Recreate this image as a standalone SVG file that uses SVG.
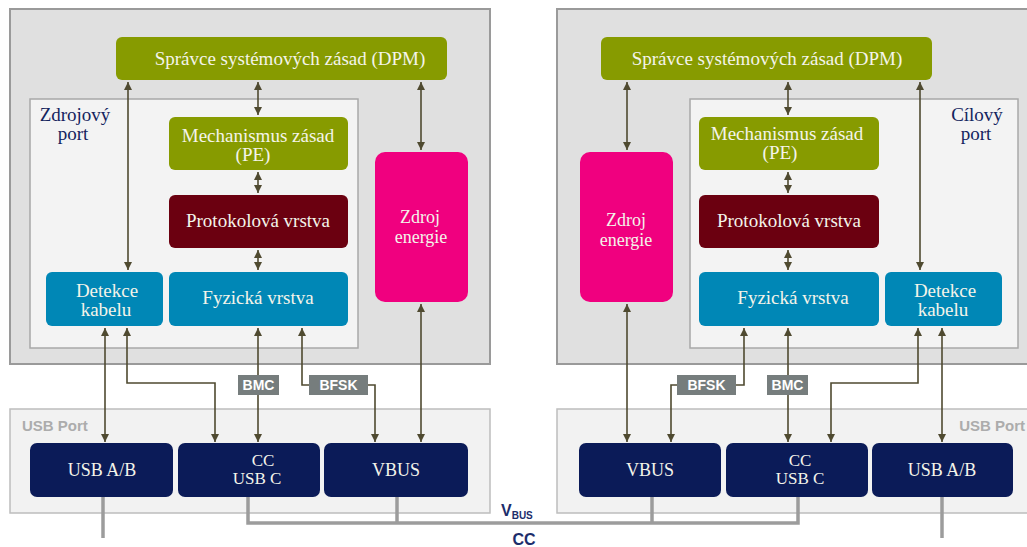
<svg xmlns="http://www.w3.org/2000/svg" width="1027" height="547" viewBox="0 0 1027 547">
<defs>
<marker id="ah" viewBox="0 0 10 10" refX="10" refY="5" markerWidth="8" markerHeight="8" markerUnits="userSpaceOnUse" orient="auto-start-reverse">
<path d="M0,0 L10,5 L0,10 z" fill="#4f4a30"/>
</marker>
<style>
.sys{fill:#e0e0e0;stroke:#9a9a9a;stroke-width:2}
.port{fill:#f3f3f3;stroke:#a8a8a8;stroke-width:1.5}
.usbp{fill:#f2f2f2;stroke:#bdbdbd;stroke-width:1.5}
.green{fill:#879b00}
.maroon{fill:#6b0010}
.blue{fill:#0087b6}
.pink{fill:#f0007f}
.navy{fill:#0b1b58}
.t{font-family:'Liberation Serif','Times New Roman','DejaVu Serif',serif;fill:#f4f4ea;text-anchor:middle}
.pt{font-family:'Liberation Serif','Times New Roman','DejaVu Serif',serif;fill:#13245e;font-size:19px}
.lbl{fill:#767d7d}
.lt{font-family:'Liberation Sans',Arial,sans-serif;font-weight:bold;fill:#ffffff;font-size:14px;text-anchor:middle}
.ug{font-family:'Liberation Sans',Arial,sans-serif;font-weight:bold;fill:#acacac;font-size:15px}
.c{fill:none;stroke:#4f4a30;stroke-width:1.6}
.g{fill:none;stroke:#9c9c9c;stroke-width:3.5}
.bt{font-family:'Liberation Sans',Arial,sans-serif;font-weight:bold;fill:#1c2d6b}
</style>
</defs>

<g id="left-system"><rect class="sys" x="10" y="9" width="480" height="355"/></g>
<g id="right-system"><rect class="sys" x="557" y="9" width="480" height="355"/></g>
<g id="left-port"><rect class="port" x="30" y="99" width="328" height="249"/>
<text class="pt" x="75" y="121" text-anchor="middle">Zdrojový</text><text class="pt" x="73" y="140" text-anchor="middle">port</text></g>
<g id="right-port"><rect class="port" x="690" y="99" width="328" height="249"/>
<text class="pt" x="977" y="121" text-anchor="middle">Cílový</text><text class="pt" x="976" y="140" text-anchor="middle">port</text></g>
<g id="left-usb-port"><rect class="usbp" x="10" y="409" width="480" height="104"/><text class="ug" x="22" y="431">USB Port</text></g>
<g id="right-usb-port"><rect class="usbp" x="557" y="409" width="480" height="104"/><text class="ug" x="1025" y="431" text-anchor="end">USB Port</text></g>

<g id="connectors">
<line class="c" x1="128" y1="82" x2="128" y2="270" marker-start="url(#ah)" marker-end="url(#ah)"/>
<line class="c" x1="258" y1="82" x2="258" y2="115" marker-start="url(#ah)" marker-end="url(#ah)"/>
<line class="c" x1="258" y1="172" x2="258" y2="193" marker-start="url(#ah)" marker-end="url(#ah)"/>
<line class="c" x1="258" y1="250" x2="258" y2="270" marker-start="url(#ah)" marker-end="url(#ah)"/>
<line class="c" x1="421" y1="82" x2="421" y2="150" marker-start="url(#ah)" marker-end="url(#ah)"/>
<line class="c" x1="421" y1="304" x2="421" y2="442" marker-start="url(#ah)" marker-end="url(#ah)"/>
<line class="c" x1="105" y1="328" x2="105" y2="442" marker-start="url(#ah)" marker-end="url(#ah)"/>
<polyline class="c" points="127,328 127,383 215,383 215,442" marker-start="url(#ah)" marker-end="url(#ah)"/>
<line class="c" x1="258" y1="328" x2="258" y2="442" marker-start="url(#ah)" marker-end="url(#ah)"/>
<polyline class="c" points="302,328 302,385 375,385 375,442" marker-start="url(#ah)" marker-end="url(#ah)"/>

<line class="c" x1="627" y1="82" x2="627" y2="150" marker-start="url(#ah)" marker-end="url(#ah)"/>
<line class="c" x1="788" y1="82" x2="788" y2="115" marker-start="url(#ah)" marker-end="url(#ah)"/>
<line class="c" x1="788" y1="172" x2="788" y2="193" marker-start="url(#ah)" marker-end="url(#ah)"/>
<line class="c" x1="788" y1="250" x2="788" y2="270" marker-start="url(#ah)" marker-end="url(#ah)"/>
<line class="c" x1="920" y1="82" x2="920" y2="270" marker-start="url(#ah)" marker-end="url(#ah)"/>
<line class="c" x1="627" y1="304" x2="627" y2="442" marker-start="url(#ah)" marker-end="url(#ah)"/>
<polyline class="c" points="744,328 744,385 671,385 671,442" marker-start="url(#ah)" marker-end="url(#ah)"/>
<line class="c" x1="788" y1="328" x2="788" y2="442" marker-start="url(#ah)" marker-end="url(#ah)"/>
<polyline class="c" points="918,328 918,383 831,383 831,442" marker-start="url(#ah)" marker-end="url(#ah)"/>
<line class="c" x1="942" y1="328" x2="942" y2="442" marker-start="url(#ah)" marker-end="url(#ah)"/>

<line class="g" x1="103" y1="497" x2="103" y2="538"/>
<polyline class="g" points="248,497 248,523 798,523 798,497"/>
<line class="g" x1="397" y1="497" x2="397" y2="523"/>
<line class="g" x1="652" y1="497" x2="652" y2="523"/>
<line class="g" x1="942" y1="497" x2="942" y2="538"/>
</g>

<g id="bmc-left"><rect class="lbl" x="238" y="375" width="41" height="20"/><text class="lt" x="258.5" y="390">BMC</text></g>
<g id="bfsk-left"><rect class="lbl" x="309" y="375" width="59" height="20"/><text class="lt" x="338.5" y="390">BFSK</text></g>
<g id="bfsk-right"><rect class="lbl" x="677" y="375" width="59" height="20"/><text class="lt" x="706.5" y="390">BFSK</text></g>
<g id="bmc-right"><rect class="lbl" x="767" y="375" width="41" height="20"/><text class="lt" x="787.5" y="390">BMC</text></g>

<g id="dpm-left"><rect class="green" x="116" y="37" width="331" height="43" rx="6"/><text class="t" x="290" y="65" font-size="19">Správce systémových zásad (DPM)</text></g>
<g id="pe-left"><rect class="green" x="169" y="117" width="179" height="53" rx="6"/><text class="t" x="258" y="142" font-size="19">Mechanismus zásad</text><text class="t" x="253" y="161" font-size="19">(PE)</text></g>
<g id="proto-left"><rect class="maroon" x="169" y="195" width="179" height="53" rx="6"/><text class="t" x="258" y="227" font-size="19">Protokolová vrstva</text></g>
<g id="phy-left"><rect class="blue" x="169" y="272" width="179" height="54" rx="6"/><text class="t" x="258" y="304" font-size="19">Fyzická vrstva</text></g>
<g id="det-left"><rect class="blue" x="46" y="272" width="117" height="54" rx="6"/><text class="t" x="107" y="297" font-size="19">Detekce</text><text class="t" x="106" y="316" font-size="19">kabelu</text></g>
<g id="power-left"><rect class="pink" x="375" y="152" width="93" height="150" rx="10"/><text class="t" x="420" y="223" font-size="18">Zdroj</text><text class="t" x="421" y="243" font-size="18">energie</text></g>

<g id="dpm-right"><rect class="green" x="601" y="37" width="331" height="43" rx="6"/><text class="t" x="767" y="65" font-size="19">Správce systémových zásad (DPM)</text></g>
<g id="pe-right"><rect class="green" x="699" y="117" width="180" height="53" rx="6"/><text class="t" x="787" y="140" font-size="19">Mechanismus zásad</text><text class="t" x="780" y="159" font-size="19">(PE)</text></g>
<g id="proto-right"><rect class="maroon" x="699" y="195" width="180" height="53" rx="6"/><text class="t" x="789" y="227" font-size="19">Protokolová vrstva</text></g>
<g id="phy-right"><rect class="blue" x="699" y="272" width="180" height="54" rx="6"/><text class="t" x="793" y="304" font-size="19">Fyzická vrstva</text></g>
<g id="det-right"><rect class="blue" x="885" y="272" width="117" height="54" rx="6"/><text class="t" x="945" y="297" font-size="19">Detekce</text><text class="t" x="943" y="316" font-size="19">kabelu</text></g>
<g id="power-right"><rect class="pink" x="580" y="152" width="93" height="150" rx="10"/><text class="t" x="626" y="226" font-size="18">Zdroj</text><text class="t" x="626" y="246" font-size="18">energie</text></g>

<g id="usbab-left"><rect class="navy" x="30" y="443" width="143" height="54" rx="7"/><text class="t" x="102" y="476" font-size="18">USB A/B</text></g>
<g id="cc-left"><rect class="navy" x="178" y="443" width="142" height="54" rx="7"/><text class="t" x="263" y="466" font-size="17">CC</text><text class="t" x="257" y="484" font-size="17">USB C</text></g>
<g id="vbus-left"><rect class="navy" x="324" y="443" width="144" height="54" rx="7"/><text class="t" x="396" y="476" font-size="18">VBUS</text></g>
<g id="vbus-right"><rect class="navy" x="579" y="443" width="142" height="54" rx="7"/><text class="t" x="650" y="476" font-size="18">VBUS</text></g>
<g id="cc-right"><rect class="navy" x="726" y="443" width="142" height="54" rx="7"/><text class="t" x="800" y="466" font-size="17">CC</text><text class="t" x="800" y="484" font-size="17">USB C</text></g>
<g id="usbab-right"><rect class="navy" x="872" y="443" width="141" height="54" rx="7"/><text class="t" x="942" y="476" font-size="18">USB A/B</text></g>

<g id="bus-labels">
<text class="bt" x="501" y="516" font-size="16">V<tspan font-size="10" dy="3">BUS</tspan></text>
<text class="bt" x="524" y="545" font-size="16" text-anchor="middle">CC</text>
</g>
</svg>
